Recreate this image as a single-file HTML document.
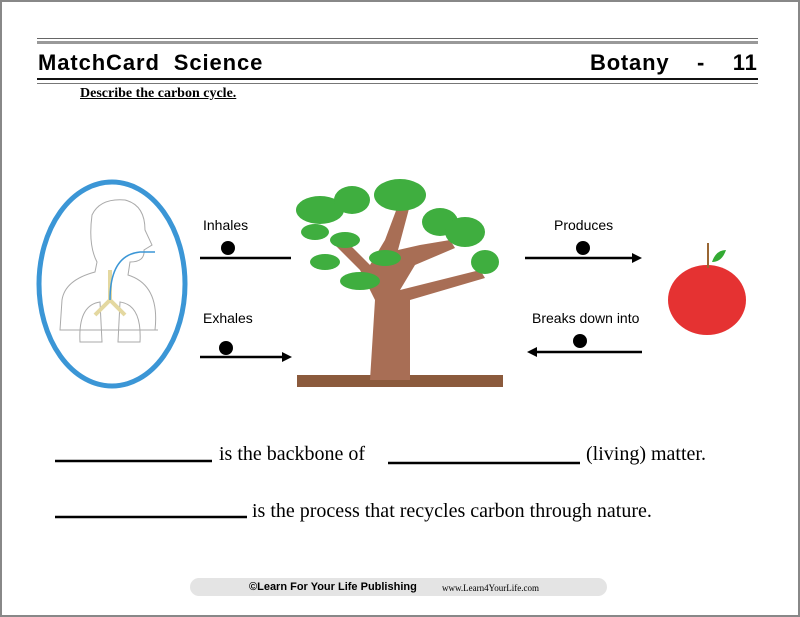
<!DOCTYPE html>
<html><head><style>
body{margin:0;width:800px;height:617px;position:relative;background:#fff;font-family:"Liberation Sans",sans-serif;overflow:hidden}
.a{position:absolute;white-space:nowrap}
</style></head><body>
<div class="a" style="left:0;top:0;width:796px;height:613px;border:2px solid #888"></div>
<div class="a" style="left:37px;top:38px;width:721px;height:1px;background:#666"></div>
<div class="a" style="left:37px;top:41px;width:721px;height:3px;background:#999"></div>
<div class="a" style="left:37px;top:78px;width:721px;height:2px;background:#111"></div>
<div class="a" style="left:37px;top:83px;width:721px;height:1px;background:#777"></div>
<div class="a" style="left:38px;top:50px;font-size:22px;font-weight:bold;letter-spacing:0.9px">MatchCard&nbsp; Science</div>
<div class="a" style="left:590px;top:50px;font-size:22px;font-weight:bold;letter-spacing:0.8px">Botany&nbsp;&nbsp;&nbsp; -&nbsp;&nbsp;&nbsp; 11</div>
<div class="a" style="left:80px;top:86px;font-family:'Liberation Serif',serif;font-size:14px;font-weight:bold;text-decoration:underline">Describe the carbon cycle.</div>
<svg class="a" style="left:0;top:0" width="800" height="617">
<ellipse cx="112" cy="284" rx="73" ry="102" fill="none" stroke="#3b96d6" stroke-width="5"/>
<path d="M92 215 Q100 198 125 200 Q145 205 145 230 L152 245 L144 250 Q145 262 130 262 L128 275 Q160 285 155 330 L158 330 L60 330 L62 300 Q65 280 95 272 L97 262 Q88 245 92 215Z" fill="none" stroke="#aaa" stroke-width="1"/>
<path d="M80 342 Q78 305 100 302 L102 342Z M118 342 L120 302 Q142 305 140 342Z" fill="none" stroke="#aaa" stroke-width="1"/>
<path d="M110 270 L110 300 L95 315 M110 300 L125 315" stroke="#e4d8a0" stroke-width="4" fill="none"/>
<path d="M110 300 Q110 255 140 252 L155 252" stroke="#3b96d6" stroke-width="1.5" fill="none"/>
<path d="M200 258 H291" stroke="#000" stroke-width="2.5"/>
<circle cx="228" cy="248" r="7"/>
<path d="M200 357 H284" stroke="#000" stroke-width="2.5"/><path d="M292 357 l-10 -5 v10z"/>
<circle cx="226" cy="348" r="7"/>
<path d="M525 258 H634" stroke="#000" stroke-width="2.5"/><path d="M642 258 l-10 -5 v10z"/>
<circle cx="583" cy="248" r="7"/>
<path d="M535 352 H642" stroke="#000" stroke-width="2.5"/><path d="M527 352 l10 -5 v10z"/>
<circle cx="580" cy="341" r="7"/>
<rect x="297" y="375" width="206" height="12" fill="#8b5a3c"/>
<path d="M370 380 L375 300 L360 270 L330 240 L340 235 L370 265 L385 240 L400 200 L410 205 L398 250 L420 245 L450 240 L455 248 L415 265 L400 290 L480 270 L485 278 L410 300 L410 380Z" fill="#a86e55"/>
<g fill="#3fae3f">
<ellipse cx="320" cy="210" rx="24" ry="14"/><ellipse cx="352" cy="200" rx="18" ry="14"/>
<ellipse cx="400" cy="195" rx="26" ry="16"/><ellipse cx="440" cy="222" rx="18" ry="14"/>
<ellipse cx="465" cy="232" rx="20" ry="15"/><ellipse cx="315" cy="232" rx="14" ry="8"/>
<ellipse cx="345" cy="240" rx="15" ry="8"/><ellipse cx="325" cy="262" rx="15" ry="8"/>
<ellipse cx="385" cy="258" rx="16" ry="8"/><ellipse cx="360" cy="281" rx="20" ry="9"/>
<ellipse cx="485" cy="262" rx="14" ry="12"/></g>
<ellipse cx="707" cy="300" rx="39" ry="35" fill="#e53232"/>
<path d="M708 268 L708 243" stroke="#963" stroke-width="2"/>
<path d="M712 262 Q716 250 726 250 Q722 262 712 262Z" fill="#3a3"/>
<path d="M55 461 H212 M388 463 H580 M55 517 H247" stroke="#000" stroke-width="2.5"/>
<rect x="190" y="578" width="417" height="18" rx="9" fill="#e4e4e4"/>
</svg>
<div class="a" style="left:203px;top:217px;font-size:14px">Inhales</div>
<div class="a" style="left:203px;top:310px;font-size:14px">Exhales</div>
<div class="a" style="left:554px;top:217px;font-size:14px">Produces</div>
<div class="a" style="left:532px;top:310px;font-size:14px">Breaks down into</div>
<div class="a" style="left:219px;top:443px;font-family:'Liberation Serif',serif;font-size:20px">is the backbone of</div>
<div class="a" style="left:586px;top:443px;font-family:'Liberation Serif',serif;font-size:20px">(living) matter.</div>
<div class="a" style="left:252px;top:500px;font-family:'Liberation Serif',serif;font-size:20px">is the process that recycles carbon through nature.</div>
<div class="a" style="left:249px;top:581px;font-size:11px;font-weight:bold">©Learn For Your Life Publishing</div>
<div class="a" style="left:442px;top:583px;font-family:'Liberation Serif',serif;font-size:9px">www.Learn4YourLife.com</div>
</body></html>
